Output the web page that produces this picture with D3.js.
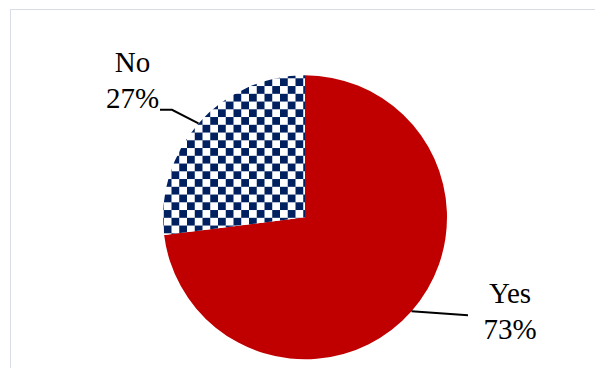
<!DOCTYPE html>
<html>
<head>
<meta charset="utf-8">
<script src="https://cdn.jsdelivr.net/npm/d3@7/dist/d3.min.js"></script>
</head>
<body style="margin:0;background:#fff">
<div id="chart" style="position:relative;width:595px;height:368px;overflow:hidden"></div>
<script>
// Share of answers
const categories = ["Yes", "No"];
const values = [73, 27];
const labels = ["73%", "27%"];

const width = 595, height = 368;
const cx = 305, cy = 217.3, radius = 142;

const chart = d3.select("#chart");
const svg = chart.append("svg")
  .attr("width", width)
  .attr("height", height)
  .attr("style", "display:block");

// Chart area frame (open to the right and bottom edges)
svg.append("rect")
  .attr("x", 10.5).attr("y", 9.5)
  .attr("width", 600).attr("height", 400)
  .attr("fill", "none")
  .attr("stroke", "#d9dce4")
  .attr("stroke-width", 1);

// Navy checkerboard fill
const sq = 7.75;
const pat = svg.append("defs").append("pattern")
  .attr("id", "checker")
  .attr("patternUnits", "userSpaceOnUse")
  .attr("x", 285).attr("y", 78)
  .attr("width", sq * 2).attr("height", sq * 2);
pat.append("rect").attr("width", sq * 2).attr("height", sq * 2).attr("fill", "#ffffff");
pat.append("rect").attr("x", 0).attr("y", 0).attr("width", sq).attr("height", sq).attr("fill", "#002060");
pat.append("rect").attr("x", sq).attr("y", sq).attr("width", sq).attr("height", sq).attr("fill", "#002060");

const fills = d3.scaleOrdinal().domain(categories).range(["#c00000", "url(#checker)"]);

const pie = d3.pie().sort(null).value(d => d.value);
const arcs = pie(categories.map((c, i) => ({ name: c, value: values[i], label: labels[i] })));
const arc = d3.arc().innerRadius(0).outerRadius(radius);

const g = svg.append("g").attr("transform", `translate(${cx},${cy})`);

g.selectAll("path.slice")
  .data(arcs)
  .join("path")
  .attr("class", "slice")
  .attr("d", arc)
  .attr("fill", d => fills(d.data.name));

// Leader lines from the middle of each slice's rim out to its label;
// text positions are the first baseline, relative to the pie centre
const labelLayout = {
  Yes: { pts: [[163, 98]], text: [205, 86] },
  No:  { pts: [[-133, -107.5], [-145, -107.5]], text: [-172.5, -145] }
};

g.selectAll("path.leader")
  .data(arcs)
  .join("path")
  .attr("class", "leader")
  .attr("d", d => {
    const a = (d.startAngle + d.endAngle) / 2;
    const p = [Math.sin(a) * radius, -Math.cos(a) * radius];
    return d3.line()([p, ...labelLayout[d.data.name].pts]);
  })
  .attr("fill", "none")
  .attr("stroke", "#000")
  .attr("stroke-width", 2);

// Two-line category / percentage labels
const txt = g.selectAll("text.lbl")
  .data(arcs)
  .join("text")
  .attr("class", "lbl")
  .attr("x", d => labelLayout[d.data.name].text[0])
  .attr("y", d => labelLayout[d.data.name].text[1])
  .attr("text-anchor", "middle")
  .attr("font-family", "Liberation Serif, DejaVu Serif, serif")
  .attr("font-size", 29)
  .attr("fill", "#000");
txt.append("tspan")
  .attr("x", d => labelLayout[d.data.name].text[0])
  .text(d => d.data.name);
txt.append("tspan")
  .attr("x", d => labelLayout[d.data.name].text[0])
  .attr("dy", 36)
  .text(d => d.data.label);
</script>
</body>
</html>
